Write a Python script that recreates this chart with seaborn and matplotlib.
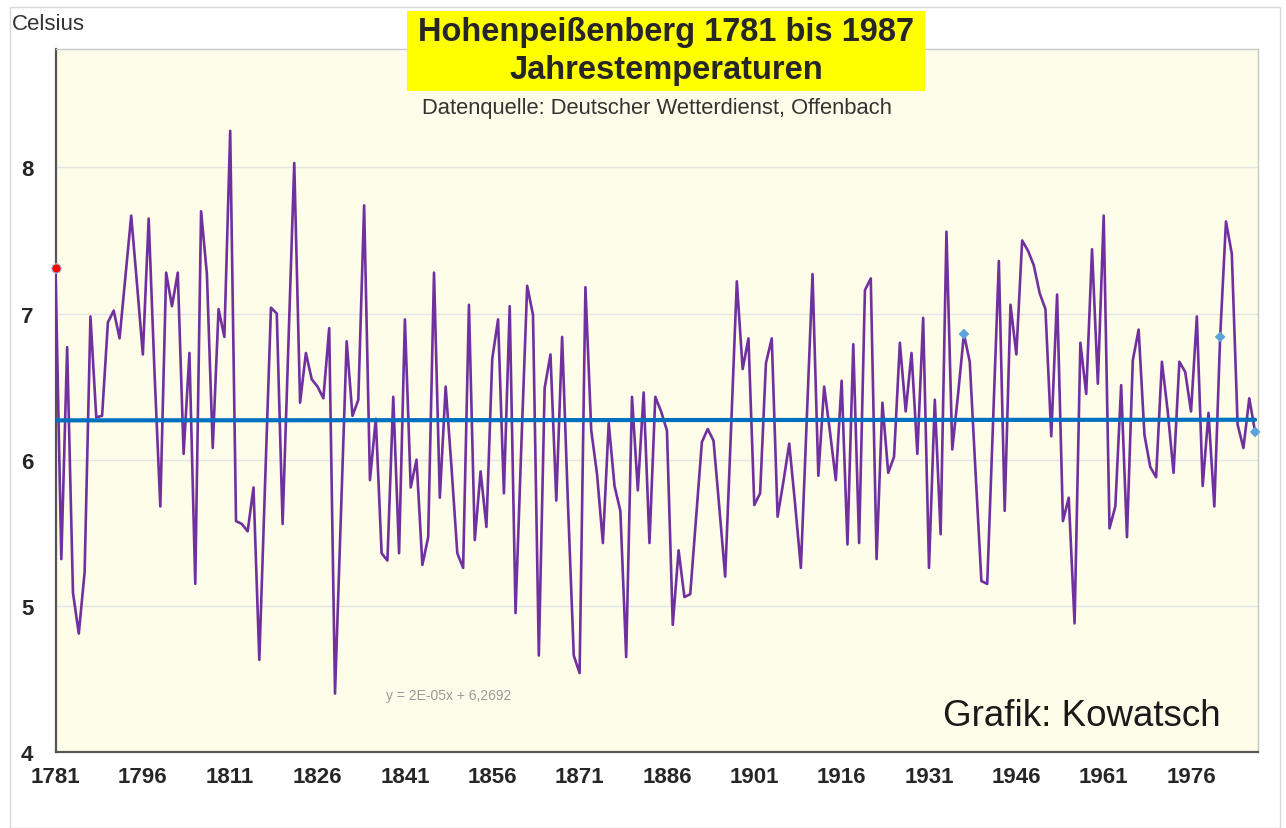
"""
Hohenpeissenberg annual mean temperature 1781-1987 with linear trend.
"""

import matplotlib
matplotlib.use("Agg")  # no display
import matplotlib.pyplot as plt
from matplotlib.patches import Rectangle
from matplotlib.ticker import MultipleLocator
import numpy as np
import pandas as pd
import seaborn as sns

FIRST_YEAR = 1781

# Annual mean temperature (Celsius)
TEMPERATURES = [
    7.31, 5.32, 6.77, 5.09, 4.81, 5.23, 6.98, 6.29, 6.30, 6.94,   # 1781-1790
    7.02, 6.83, 7.25, 7.67, 7.20, 6.72, 7.65, 6.60, 5.68, 7.28,   # 1791-1800
    7.05, 7.28, 6.04, 6.73, 5.15, 7.70, 7.27, 6.08, 7.03, 6.84,   # 1801-1810
    8.25, 5.58, 5.56, 5.51, 5.81, 4.63, 5.85, 7.04, 7.00, 5.56,   # 1811-1820
    6.80, 8.03, 6.39, 6.73, 6.55, 6.50, 6.42, 6.90, 4.40, 5.60,   # 1821-1830
    6.81, 6.30, 6.41, 7.74, 5.86, 6.28, 5.36, 5.31, 6.43, 5.36,   # 1831-1840
    6.96, 5.81, 6.00, 5.28, 5.47, 7.28, 5.74, 6.50, 5.95, 5.36,   # 1841-1850
    5.26, 7.06, 5.45, 5.92, 5.54, 6.69, 6.96, 5.77, 7.05, 4.95,   # 1851-1860
    6.10, 7.19, 6.99, 4.66, 6.49, 6.72, 5.72, 6.84, 5.70, 4.66,   # 1861-1870
    4.54, 7.18, 6.20, 5.90, 5.43, 6.25, 5.82, 5.65, 4.65, 6.43,   # 1871-1880
    5.79, 6.46, 5.43, 6.43, 6.33, 6.20, 4.87, 5.38, 5.06, 5.08,   # 1881-1890
    5.60, 6.12, 6.21, 6.13, 5.67, 5.20, 6.20, 7.22, 6.62, 6.83,   # 1891-1900
    5.69, 5.77, 6.66, 6.83, 5.61, 5.85, 6.11, 5.70, 5.26, 6.27,   # 1901-1910
    7.27, 5.89, 6.50, 6.19, 5.86, 6.54, 5.42, 6.79, 5.43, 7.16,   # 1911-1920
    7.24, 5.32, 6.39, 5.91, 6.02, 6.80, 6.33, 6.73, 6.04, 6.97,   # 1921-1930
    5.26, 6.41, 5.49, 7.56, 6.07, 6.45, 6.86, 6.67, 5.91, 5.17,   # 1931-1940
    5.15, 6.25, 7.36, 5.65, 7.06, 6.72, 7.50, 7.43, 7.33, 7.14,   # 1941-1950
    7.03, 6.16, 7.13, 5.58, 5.74, 4.88, 6.80, 6.45, 7.44, 6.52,   # 1951-1960
    7.67, 5.53, 5.68, 6.51, 5.47, 6.68, 6.89, 6.17, 5.95, 5.88,   # 1961-1970
    6.67, 6.33, 5.91, 6.67, 6.60, 6.33, 6.98, 5.82, 6.32, 5.68,   # 1971-1980
    6.84, 7.63, 7.41, 6.24, 6.08, 6.42, 6.19,                     # 1981-1987
]
YEARS = list(range(FIRST_YEAR, FIRST_YEAR + len(TEMPERATURES)))

# Excel linear trend: y = 2E-05x + 6,2692 (x = running index 1..n)
TREND_SLOPE = 2e-05
TREND_INTERCEPT = 6.2692

RED_MARKER_YEARS = [1781]
BLUE_MARKER_YEARS = [1937, 1981, 1987]

XTICK_YEARS = list(range(1781, 1977, 15))
YTICKS = [4, 5, 6, 7, 8]

LINE_COLOR = "#7030A0"
TREND_COLOR = "#0070C0"
PLOT_BG = "#FEFDE9"

sns.set_style("white")
plt.rcParams["font.family"] = ["Liberation Sans", "DejaVu Sans"]

df = pd.DataFrame({"year": YEARS, "temp": TEMPERATURES})
df["trend"] = TREND_SLOPE * np.arange(1, len(df) + 1) + TREND_INTERCEPT

fig = plt.figure(figsize=(12.86, 8.29), dpi=100)
ax = fig.add_axes([55.5 / 1286, 76 / 829, (1258 - 55.5) / 1286, (779 - 76) / 829])
ax.set_facecolor(PLOT_BG)

sns.lineplot(data=df, x="year", y="temp", color=LINE_COLOR, linewidth=1.9, ax=ax, zorder=3)
sns.lineplot(data=df, x="year", y="trend", color=TREND_COLOR, linewidth=3.0, ax=ax, zorder=4)

red = df[df["year"].isin(RED_MARKER_YEARS)]
blue = df[df["year"].isin(BLUE_MARKER_YEARS)]
sns.scatterplot(data=red, x="year", y="temp", color="#FF0000", s=45, marker="o",
                edgecolor="#9DC3E6", linewidth=0.8, ax=ax, zorder=6, clip_on=False)
sns.scatterplot(data=blue, x="year", y="temp", color="#5BA3DC", s=30, marker="D",
                edgecolor="none", ax=ax, zorder=6, clip_on=False)

ax.set_xlim(1781, 1987.5)
ax.set_ylim(4, 8.81)
ax.set_xticks(XTICK_YEARS)
ax.set_xticklabels([str(y) for y in XTICK_YEARS], fontsize=16, fontweight="bold")
ax.set_yticks(YTICKS)
ax.set_yticklabels([str(v) for v in YTICKS], fontsize=16, fontweight="bold")
ax.yaxis.set_minor_locator(MultipleLocator(0.5))
ax.tick_params(axis="x", direction="inout", length=10, width=1.2, color="#404040", pad=5)
ax.tick_params(axis="y", which="both", direction="out", length=5, width=1.0, color="#404040", pad=11)
ax.set_xlabel("")
ax.set_ylabel("")
ax.grid(axis="y", which="major", color="#E4E4E4", linewidth=1.0)
ax.set_axisbelow(True)

for side in ("left", "bottom"):
    ax.spines[side].set_color("#555555")
    ax.spines[side].set_linewidth(1.6)
for side in ("top", "right"):
    ax.spines[side].set_color("#C8C8C8")
    ax.spines[side].set_linewidth(1.0)

ax.text(1837.8, 4.39, "y = 2E-05x + 6,2692", fontsize=10, color="#9A9A9A",
        ha="left", va="center", zorder=5)
ax.text(1933.4, 4.25, "Grafik: Kowatsch", fontsize=26.5, color="#1A1A1A",
        ha="left", va="center", zorder=5)

# outer chart frame
fig.patches.append(Rectangle((10 / 1286, 0), 1270 / 1286, 821 / 829, transform=fig.transFigure,
                             facecolor="none", edgecolor="#D9D9D9", linewidth=1.0, zorder=0))

# title box
fig.patches.append(Rectangle((407 / 1286, 1 - 92 / 829), 518 / 1286, 80 / 829,
                             transform=fig.transFigure, facecolor="#FFFF00",
                             edgecolor="none", zorder=5))
fig.text(666 / 1286, 1 - 33 / 829, "Hohenpeißenberg 1781 bis 1987", fontsize=23.5,
         fontweight="bold", ha="center", va="center", zorder=6)
fig.text(666 / 1286, 1 - 71 / 829, "Jahrestemperaturen", fontsize=23.5,
         fontweight="bold", ha="center", va="center", zorder=6)
fig.text(657 / 1286, 1 - 109 / 829, "Datenquelle: Deutscher Wetterdienst, Offenbach",
         fontsize=15.8, color="#333333", ha="center", va="center", zorder=6)
fig.text(12 / 1286, 1 - 25 / 829, "Celsius", fontsize=16, color="#333333",
         ha="left", va="center")

fig.savefig("out.png", dpi=100)
plt.close(fig)
